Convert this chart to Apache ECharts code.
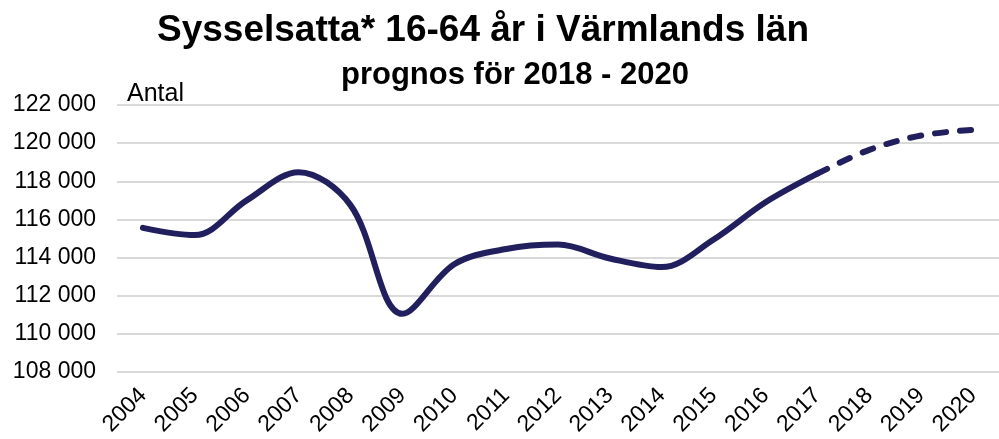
<!DOCTYPE html>
<html>
<head>
<meta charset="utf-8">
<script src="https://cdn.jsdelivr.net/npm/echarts@6/dist/echarts.min.js"></script>
<style>
  html, body { margin: 0; padding: 0; background: #fff; }
  #chart { width: 999px; height: 439px; }
</style>
</head>
<body>
<div id="chart"></div>
<script>
const years = ['2004', '2005', '2006', '2007', '2008', '2009', '2010', '2011', '2012',
  '2013', '2014', '2015', '2016', '2017', '2018', '2019', '2020']
// utfall 2004-2017
const actual = [115560, 115180, 117000, 118480, 116750, 111050, 113650, 114450, 114680,
  113950, 113500, 114950, 116900, 118400]
// prognos 2017-2020
const forecast = [118400, 119650, 120400, 120700]

const lineColor = '#221f5e'
const font = 'Liberation Sans, Arial, sans-serif'

const solidData = years.map((y, i) => (i < actual.length ? actual[i] : null))
const dashData = years.map((y, i) => {
  const k = i - (actual.length - 1)
  return k >= 0 ? forecast[k] : null
})

function fmt(v) {
  return String(v).replace(/\B(?=(\d{3})+(?!\d))/g, ' ')
}

const chart = echarts.init(document.getElementById('chart'), null, { renderer: 'canvas' })

chart.setOption({
  backgroundColor: '#fff',
  animation: false,
  title: [
    {
      text: 'Sysselsatta* 16-64 år i Värmlands län',
      left: 478,
      top: 7,
      textAlign: 'center',
      textStyle: { fontFamily: font, fontSize: 37, fontWeight: 'bold', color: '#000' },
    },
    {
      text: 'prognos för 2018 - 2020',
      left: 510,
      top: 55,
      textAlign: 'center',
      textStyle: { fontFamily: font, fontSize: 31, fontWeight: 'bold', color: '#000' },
    },
    {
      text: 'Antal',
      left: 122,
      top: 77,
      textStyle: { fontFamily: font, fontSize: 25, fontWeight: 'normal', color: '#000' },
    },
  ],
  grid: { left: 117, right: 0, top: 105, bottom: 67, containLabel: false },
  xAxis: {
    type: 'category',
    data: years,
    boundaryGap: true,
    axisLine: { show: false },
    axisTick: { show: false },
    axisLabel: {
      rotate: 45,
      margin: 20,
      fontFamily: font,
      fontSize: 23,
      color: '#000',
    },
  },
  yAxis: {
    type: 'value',
    min: 108000,
    max: 122000,
    interval: 2000,
    axisLine: { show: false },
    axisTick: { show: false },
    splitLine: { lineStyle: { color: '#d9d9d9', width: 2 } },
    axisLabel: {
      formatter: fmt,
      margin: 21,
      fontFamily: font,
      fontSize: 23,
      color: '#000',
    },
  },
  series: [
    {
      type: 'line',
      data: solidData,
      smooth: 0.35,
      showSymbol: false,
      connectNulls: false,
      lineStyle: { color: lineColor, width: 6, cap: 'round' },
    },
    {
      type: 'line',
      data: dashData,
      smooth: 0.35,
      showSymbol: false,
      lineStyle: { color: lineColor, width: 6, type: [11, 14], cap: 'round' },
    },
  ],
})
</script>
</body>
</html>
